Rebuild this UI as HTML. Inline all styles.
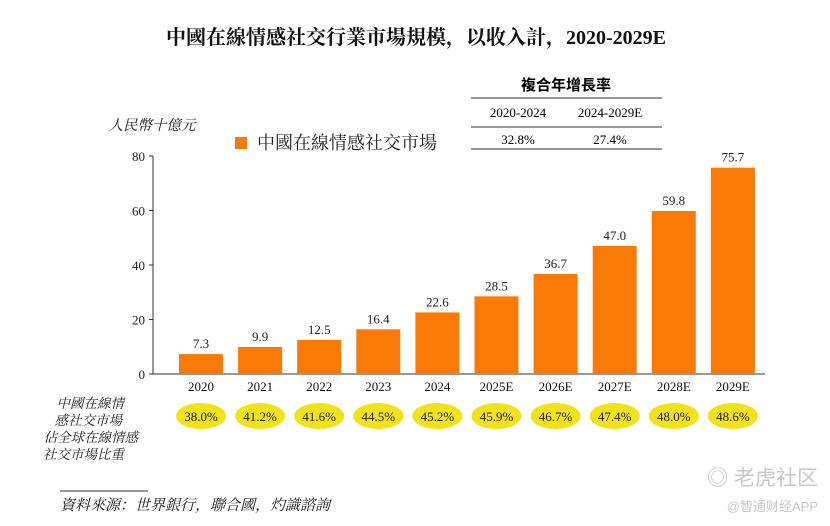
<!DOCTYPE html>
<html><head><meta charset="utf-8">
<style>
body{margin:0;background:#fff;}
svg{display:block;font-family:"Liberation Serif","Noto Serif CJK SC",serif;}
</style></head>
<body>
<svg id="chart" width="830" height="526">
<text x="416" y="44" text-anchor="middle" font-size="20" font-weight="bold" fill="#111">中國在線情感社交行業市場規模，以收入計，2020-2029E</text>
<g>
<text x="566" y="90" text-anchor="middle" font-size="15" font-weight="bold" font-family="Liberation Sans,Noto Sans CJK TC,sans-serif">複合年增長率</text>
<line x1="471" y1="98" x2="662" y2="98" stroke="#333"/>
<text x="518" y="117" text-anchor="middle" font-size="13">2020-2024</text>
<text x="610" y="117" text-anchor="middle" font-size="13">2024-2029E</text>
<line x1="471" y1="127" x2="662" y2="127" stroke="#333"/>
<text x="518" y="144" text-anchor="middle" font-size="13">32.8%</text>
<text x="610" y="144" text-anchor="middle" font-size="13">27.4%</text>
<line x1="471" y1="149" x2="662" y2="149" stroke="#333"/>
</g>
<text x="152" y="130" text-anchor="middle" font-size="14.5" font-style="italic" fill="#222">人民幣十億元</text>
<rect x="235" y="137" width="12" height="12" fill="#f97a06"/>
<text x="257" y="149" font-size="18" fill="#222">中國在線情感社交市場</text>
<g id="axes"></g>
<g id="bars"></g>
<g text-anchor="end" font-size="13.5" font-style="italic" fill="#222">
<text x="124" y="408">中國在線情</text>
<text x="122" y="425">感社交市場</text>
<text x="138" y="442">佔全球在線情感</text>
<text x="124" y="459">社交市場比重</text>
</g>
<line x1="60" y1="491" x2="148" y2="491" stroke="#333"/>
<text x="60" y="510" font-size="15" font-style="italic" fill="#222">資料來源：世界銀行，聯合國，灼識諮詢</text>
<text x="818" y="485" text-anchor="end" font-size="21" fill="#c8c8c8" font-family="Liberation Sans,Noto Sans CJK SC,sans-serif">◎ 老虎社区</text>
<text x="818" y="511" text-anchor="end" font-size="13" fill="#c8c8c8" font-family="Liberation Sans,Noto Sans CJK SC,sans-serif">@智通财经APP</text>
</svg>
<script>
const categories=["2020","2021","2022","2023","2024","2025E","2026E","2027E","2028E","2029E"];
const values=[7.3,9.9,12.5,16.4,22.6,28.5,36.7,47.0,59.8,75.7];
const shares=["38.0%","41.2%","41.6%","44.5%","45.2%","45.9%","46.7%","47.4%","48.0%","48.6%"];
const yTicks=[0,20,40,60,80];
const NS="http://www.w3.org/2000/svg";
const x0=201,step=59.1,barW=44,baseY=374,pxPer=218/80;
const xS=i=>x0+i*step;
const yS=v=>baseY-v*pxPer;
function mk(tag,attrs,parent,txt){const e=document.createElementNS(NS,tag);for(const k in attrs)e.setAttribute(k,attrs[k]);if(txt!==undefined)e.textContent=txt;parent.appendChild(e);return e;}
const axes=document.getElementById('axes'),bars=document.getElementById('bars');
let e=mk('line',{x1:153,y1:yS(80),x2:153,y2:baseY,stroke:'#333'},axes);


e=mk('line',{x1:153,y1:baseY,x2:765,y2:baseY,stroke:'#333'},axes);


yTicks.forEach(t=>{
  const y=yS(t);
  let l=mk('line',{x1:149,y1:y,x2:153,y2:y,stroke:'#333'},axes);
  
  
  let tx=mk('text',{x:145,y:y+5,'text-anchor':'end','font-size':13,fill:'#222'},axes,String(t));
  
  
});
categories.forEach((c,i)=>{
  const cx=xS(i),y=yS(values[i]);
  let r=mk('rect',{x:cx-barW/2,y:y,width:barW,height:baseY-y,fill:'#f97a06'},bars);
  
  
  let v=mk('text',{x:cx,y:y-6,'text-anchor':'middle','font-size':13,fill:'#222'},bars,values[i].toFixed(1));
  
  
  let cl=mk('text',{x:cx,y:391,'text-anchor':'middle','font-size':13,fill:'#111'},bars,c);
  
  
  let el=mk('ellipse',{cx:cx,cy:416,rx:25,ry:13,fill:'#f2e21a'},bars);
  
  
  let st=mk('text',{x:cx,y:421,'text-anchor':'middle','font-size':13,fill:'#222'},bars,shares[i]);
  
  
});
</script>
</body></html>
